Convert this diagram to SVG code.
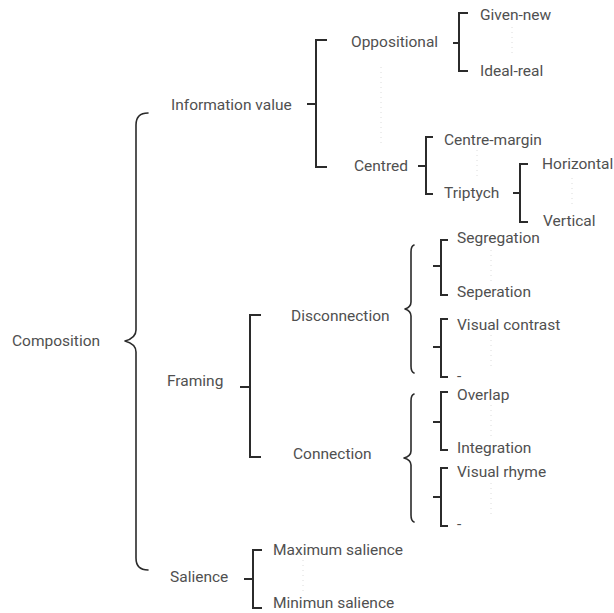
<svg xmlns="http://www.w3.org/2000/svg" width="614" height="613" viewBox="0 0 614 613">
<style>
  .t { font-family: Roboto, "Noto Sans", "Liberation Sans", sans-serif; font-size: 15.5px; fill: #505050; dominant-baseline: central; }
  .br { fill: none; stroke: #2b2b2b; stroke-width: 2; }
  .cb { fill: none; stroke: #2b2b2b; stroke-width: 1.6; stroke-linejoin: round; stroke-linecap: round; }
  .dot { fill: none; stroke: #dcdcdc; stroke-width: 1; stroke-dasharray: 1 4; }
</style>
<rect width="614" height="613" fill="#ffffff"/>
<g id="connectors">
  <path class="cb" d="M148,113 Q136,113 136,125 V330 Q136,338 125,341 Q136,344 136,352 V558 Q136,570 148,570"/>
  <path class="br" d="M307,104 H316 M327,40 H316 V167 H327"/>
  <path class="br" d="M453,43 H459 M468,13 H459 V71 H468"/>
  <path class="br" d="M418,166 H426 M433,137 H426 V194 H433"/>
  <path class="br" d="M513,193 H520 M528,164 H520 V222 H528"/>
  <path class="br" d="M240,387 H250 M261,315 H250 V457 H261"/>
  <path class="cb" d="M414,245 Q411,246 411,252 V302 Q411,307 405,309 Q411,311 411,316 V366 Q411,372 414,373"/>
  <path class="cb" d="M414,394 Q411,395 411,401 V451 Q411,456 404,458 Q411,460 411,465 V515 Q411,521 414,522"/>
  <path class="br" d="M433,266 H441 M448,240 H441 V295 H448"/>
  <path class="br" d="M433,347 H441 M448,319 H441 V377 H448"/>
  <path class="br" d="M433,422 H441 M448,392 H441 V450 H448"/>
  <path class="br" d="M433,497 H441 M448,468 H441 V526 H448"/>
  <path class="br" d="M244,579 H253 M262,550 H253 V608 H262"/>
  <path class="dot" d="M381,67 V147 M512,27 V57 M477,150 V180 M572,178 V207 M491,250 V282 M491,335 V370 M491,405 V437 M491,483 V515 M303,560 V595"/>
</g>
<g id="composition"><text class="t" x="12" y="341">Composition</text></g>
<g id="information-value"><text class="t" x="171" y="105">Information value</text></g>
<g id="framing"><text class="t" x="167" y="381">Framing</text></g>
<g id="salience"><text class="t" x="170" y="577">Salience</text></g>
<g id="oppositional"><text class="t" x="351" y="42">Oppositional</text></g>
<g id="centred"><text class="t" x="354" y="166">Centred</text></g>
<g id="given-new"><text class="t" x="480" y="15">Given-new</text></g>
<g id="ideal-real"><text class="t" x="480" y="71">Ideal-real</text></g>
<g id="centre-margin"><text class="t" x="444" y="140">Centre-margin</text></g>
<g id="triptych"><text class="t" x="444" y="193">Triptych</text></g>
<g id="horizontal"><text class="t" x="542" y="164">Horizontal</text></g>
<g id="vertical"><text class="t" x="543" y="221">Vertical</text></g>
<g id="disconnection"><text class="t" x="291" y="316">Disconnection</text></g>
<g id="connection"><text class="t" x="293" y="454">Connection</text></g>
<g id="segregation"><text class="t" x="457" y="238">Segregation</text></g>
<g id="seperation"><text class="t" x="457" y="292">Seperation</text></g>
<g id="visual-contrast"><text class="t" x="457" y="325">Visual contrast</text></g>
<g id="dash-1"><text class="t" x="457" y="376">-</text></g>
<g id="overlap"><text class="t" x="457" y="395">Overlap</text></g>
<g id="integration"><text class="t" x="457" y="448">Integration</text></g>
<g id="visual-rhyme"><text class="t" x="457" y="472">Visual rhyme</text></g>
<g id="dash-2"><text class="t" x="457" y="524">-</text></g>
<g id="maximum-salience"><text class="t" x="273" y="550">Maximum salience</text></g>
<g id="minimun-salience"><text class="t" x="273" y="603">Minimun salience</text></g>
</svg>
